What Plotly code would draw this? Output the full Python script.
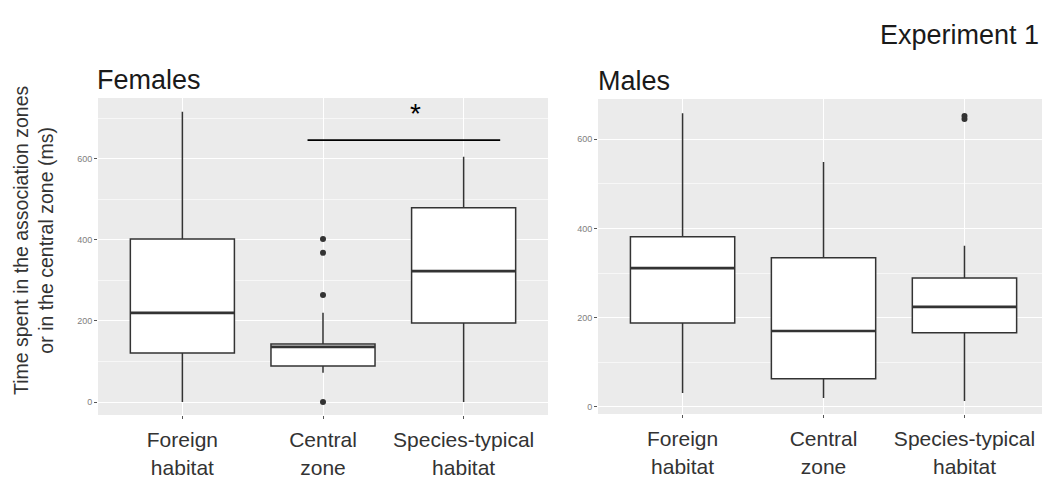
import plotly.graph_objects as go

# ---- data ----
categories = ["Foreign<br>habitat", "Central<br>zone", "Species-typical<br>habitat"]
cat_pos = [0, 1, 2]

fem_lower = [0, 72, 0]
fem_q1 = [121, 89, 195]
fem_median = [220, 136, 323]
fem_q3 = [402, 143, 479]
fem_upper = [716, 220, 605]
fem_out_x = [1, 1, 1, 1]
fem_out_y = [402, 368, 264, 0]

mal_lower = [31, 20, 13]
mal_q1 = [188, 63, 166]
mal_median = [311, 170, 224]
mal_q3 = [381, 334, 289]
mal_upper = [658, 549, 361]
mal_out_x = [2, 2]
mal_out_y = [645, 652]

y_ticks = [0, 200, 400, 600]
y_minor = [100, 300, 500, 700]
sig_x = [0.89, 2.26]
sig_y = 646
star_x = 1.66
star_y = 712

FONT = "Liberation Sans, Arial, sans-serif"
BOX_LINE = "#333333"
BOX_W = 0.74
W, H = 1042, 482

fig = go.Figure()


def median_segments(pos, med, width):
    xs, ys = [], []
    for p, m in zip(pos, med):
        xs += [p - width / 2, p + width / 2, None]
        ys += [m, m, None]
    return xs, ys


def add_panel(xa, ya, lower, q1, med, q3, upper, ox, oy):
    fig.add_trace(go.Box(
        x=cat_pos, q1=q1, median=med, q3=q3,
        lowerfence=lower, upperfence=upper,
        fillcolor="white", line=dict(color=BOX_LINE, width=1.5),
        whiskerwidth=0, width=BOX_W, boxpoints=False,
        xaxis=xa, yaxis=ya, showlegend=False, hoverinfo="skip"))
    mx, my = median_segments(cat_pos, med, BOX_W)
    fig.add_trace(go.Scatter(
        x=mx, y=my, mode="lines", line=dict(color=BOX_LINE, width=2.6),
        xaxis=xa, yaxis=ya, showlegend=False, hoverinfo="skip"))
    fig.add_trace(go.Scatter(
        x=ox, y=oy, mode="markers",
        marker=dict(color=BOX_LINE, size=6), xaxis=xa, yaxis=ya,
        showlegend=False, hoverinfo="skip"))


add_panel("x", "y", fem_lower, fem_q1, fem_median, fem_q3, fem_upper, fem_out_x, fem_out_y)
fig.add_trace(go.Scatter(
    x=sig_x, y=[sig_y, sig_y], mode="lines",
    line=dict(color="black", width=1.6), xaxis="x", yaxis="y",
    showlegend=False, hoverinfo="skip"))
add_panel("x2", "y2", mal_lower, mal_q1, mal_median, mal_q3, mal_upper, mal_out_x, mal_out_y)


def px_x(p):
    return p / W


def px_y(p):
    return 1 - p / H


grid_y = dict(
    showgrid=True, gridcolor="white", gridwidth=1.4,
    tickvals=y_ticks, ticks="outside", ticklen=3, tickcolor="#555555",
    tickfont=dict(family=FONT, size=9, color="#808080"),
    minor=dict(tickvals=y_minor, showgrid=True,
               gridcolor="#F7F7F7", gridwidth=0.8, ticks=""),
    zeroline=False, showline=False, fixedrange=True,
)
grid_x = dict(
    showgrid=True, gridcolor="white", gridwidth=1.4,
    tickvals=cat_pos, ticktext=categories, ticks="outside", ticklen=3,
    tickcolor="#555555", ticklabelstandoff=3,
    tickfont=dict(family=FONT, size=21, color="#333333"),
    zeroline=False, showline=False, fixedrange=True,
)

fig.update_layout(
    width=W, height=H,
    margin=dict(l=0, r=0, t=0, b=0),
    paper_bgcolor="white", plot_bgcolor="#EBEBEB",
    showlegend=False,
    xaxis=dict(domain=[px_x(98), px_x(548)], range=[-0.6, 2.6], anchor="y", **grid_x),
    yaxis=dict(domain=[px_y(415), px_y(98)], range=[-32, 750], anchor="x", **grid_y),
    xaxis2=dict(domain=[px_x(598), 1.0], range=[-0.6, 2.55], anchor="y2", **grid_x),
    yaxis2=dict(domain=[px_y(414), px_y(99)], range=[-16, 690], anchor="x2", **grid_y),
    annotations=[
        dict(text="Females", x=px_x(95), y=px_y(97), xref="paper", yref="paper",
             xanchor="left", yanchor="bottom", showarrow=False,
             font=dict(family=FONT, size=27, color="#1a1a1a")),
        dict(text="Males", x=px_x(596), y=px_y(98), xref="paper", yref="paper",
             xanchor="left", yanchor="bottom", showarrow=False,
             font=dict(family=FONT, size=27, color="#1a1a1a")),
        dict(text="Experiment 1", x=px_x(1041), y=px_y(35), xref="paper", yref="paper",
             xanchor="right", yanchor="middle", showarrow=False,
             font=dict(family=FONT, size=27, color="#1a1a1a")),
        dict(text="Time spent in the association zones<br>or in the central zone (ms)",
             x=px_x(33), y=px_y(240), xref="paper", yref="paper",
             xanchor="center", yanchor="middle", textangle=-90, showarrow=False,
             font=dict(family=FONT, size=19.5, color="#333333")),
        dict(text="*", x=star_x, y=star_y, xref="x", yref="y",
             xanchor="center", yanchor="middle", showarrow=False,
             font=dict(family=FONT, size=28, color="black")),
    ],
)

fig.write_html("out.html", config={"displayModeBar": False},
               post_script="document.body.style.margin='0';")
